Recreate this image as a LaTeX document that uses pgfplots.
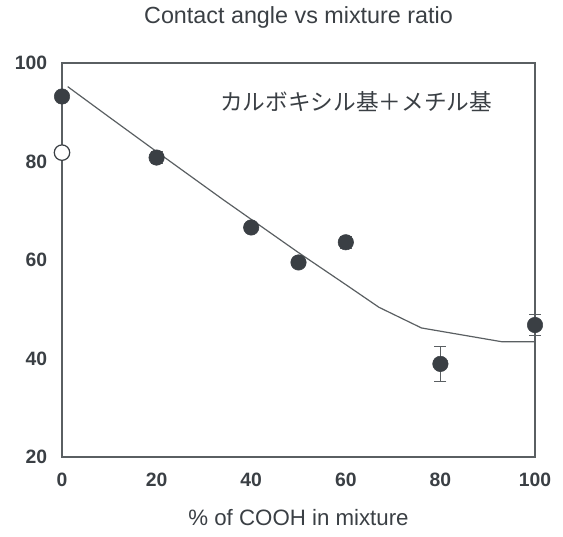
\documentclass[border=0pt]{standalone}
\usepackage{pgfplots}
\pgfplotsset{compat=1.18}
\usepackage{fontspec}
\setmainfont{Liberation Sans}
\newfontfamily\cjk{Noto Sans CJK JP}
\definecolor{ink}{HTML}{3A3F44}
\definecolor{axc}{HTML}{5A5F62}
\begin{document}
\begin{tikzpicture}
\begin{axis}[
  name=ax,
  scale only axis, width=354.75pt, height=295.5pt,
  xmin=0, xmax=100, ymin=20, ymax=100,
  xtick={0,20,40,60,80,100}, ytick={20,40,60,80,100},
  major tick length=0pt,
  axis line style={axc, line width=0.9pt},
  tick label style={font=\fontsize{14.5}{16}\selectfont\bfseries, text=ink},
  /pgf/number format/assume math mode=true,
  xticklabel style={anchor=north, inner sep=0pt, yshift=-12pt},
  yticklabel style={anchor=east, inner sep=0pt, xshift=-11pt},
  title={Contact angle vs mixture ratio},
  title style={font=\fontsize{17.5}{20}\selectfont, text=ink, anchor=center, at={(0.5,1)}, yshift=28pt},
  xlabel={\% of COOH in mixture},
  xlabel style={font=\fontsize{16.7}{19}\selectfont, text=ink, anchor=center, at={(0.5,0)}, yshift=-45.5pt},
  clip=false,
]
\addplot[axc, line width=0.9pt] coordinates {
  (1.2,95.2) (10,89) (20,82) (34,72.3) (50,61.5) (60,55) (67,50.4) (76,46.2) (93,43.4) (100,43.4)
};
\addplot[only marks, mark=*, mark size=5.8pt, mark options={fill=ink, draw=ink},
  error bars/.cd, y dir=both, y explicit, error bar style={axc, line width=0.8pt}, error mark options={rotate=90, mark size=4.5pt, axc, line width=0.8pt}]
  coordinates {
  (0,93.2) +- (0,0.5)
  (20,80.8) +- (0,1.2)
  (40,66.6) +- (0,0.6)
  (50,59.5) +- (0,0.8)
  (60,63.6) +- (0,1.2)
  (80,38.9) +- (0,3.5)
  (100,46.8) +- (0,2.2)
};
\addplot[only marks, mark=*, mark size=5.8pt, mark options={fill=white, draw=ink, line width=0.9pt}]
  coordinates {(0,81.8)};
\node[anchor=west, inner sep=0pt, font=\cjk\fontsize{17}{19}\selectfont, text=ink] at (axis cs:33.4,92.1) {カルボキシル基＋メチル基};
\end{axis}
\pgfresetboundingbox
\path ([xshift=-46.5pt,yshift=-60pt]ax.south west) rectangle ([xshift=21pt,yshift=47.25pt]ax.north east);
\end{tikzpicture}
\end{document}
